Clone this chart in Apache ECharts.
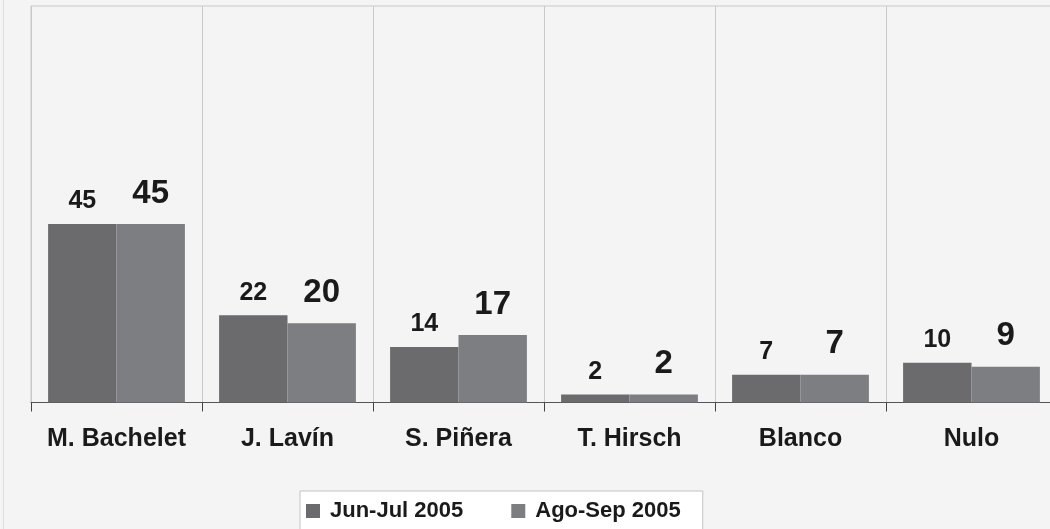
<!DOCTYPE html>
<html>
<head>
<meta charset="utf-8">
<script src="https://cdn.jsdelivr.net/npm/echarts@6/dist/echarts.min.js"></script>
<style>
  html, body { margin: 0; padding: 0; background: #f4f4f4; }
  #chart { width: 1050px; height: 529px; }
</style>
</head>
<body>
<div id="chart"></div>
<script>
const candidates = ['M. Bachelet', 'J. Lavín', 'S. Piñera', 'T. Hirsch', 'Blanco', 'Nulo']
const seriesNames = ['Jun-Jul 2005', 'Ago-Sep 2005']
const junJul = [45, 22, 14, 2, 7, 10]
const agoSep = [45, 20, 17, 2, 7, 9]

const font = '"Liberation Sans", Arial, sans-serif'

const chart = echarts.init(document.getElementById('chart'))
chart.setOption({
  backgroundColor: '#f4f4f4',
  animation: false,
  textStyle: { fontFamily: font },
  grid: {
    left: 31, right: -7, top: 6, bottom: 126.5,
    outerBoundsMode: 'none',
    show: true, borderColor: '#c9c9c9', borderWidth: 1,
    backgroundColor: 'transparent'
  },
  graphic: [{
    type: 'line',
    shape: { x1: 3.5, y1: 0, x2: 3.5, y2: 529 },
    style: { stroke: '#dcdcdc', lineWidth: 1 }
  }],
  legend: {
    left: 300, top: 491,
    padding: [9, 22, 10, 6],
    backgroundColor: '#ffffff',
    borderColor: '#c4c4c4', borderWidth: 1,
    itemWidth: 14, itemHeight: 14, itemGap: 48,
    icon: 'rect',
    textStyle: {
      fontFamily: font, fontWeight: 'bold', fontSize: 22, color: '#1a1a1a',
      lineHeight: 22, padding: [0, 0, 0, 5]
    },
    data: seriesNames
  },
  xAxis: {
    type: 'category',
    data: candidates,
    axisLine: { lineStyle: { color: '#555', width: 1 } },
    axisTick: { show: true, interval: 0, length: 9, lineStyle: { color: '#444' } },
    axisLabel: {
      interval: 0, margin: 24,
      fontFamily: font, fontWeight: 'bold', fontSize: 25, color: '#1a1a1a'
    },
    splitLine: { show: true, interval: 0, lineStyle: { color: '#c9c9c9', width: 1 } }
  },
  yAxis: {
    type: 'value', min: 0, max: 100,
    show: false, splitLine: { show: false }
  },
  series: [
    {
      name: seriesNames[0], type: 'bar', data: junJul,
      barGap: 0, barCategoryGap: '20%',
      itemStyle: { color: '#6b6b6d' },
      label: {
        show: true, position: 'top', distance: 10,
        fontFamily: font, fontWeight: 'bold', fontSize: 25, color: '#1a1a1a'
      }
    },
    {
      name: seriesNames[1], type: 'bar', data: agoSep,
      barGap: 0, barCategoryGap: '20%',
      itemStyle: { color: '#7d7e81' },
      label: {
        show: true, position: 'top', distance: 14,
        fontFamily: font, fontWeight: 'bold', fontSize: 33, color: '#1a1a1a'
      }
    }
  ]
})
</script>
</body>
</html>
